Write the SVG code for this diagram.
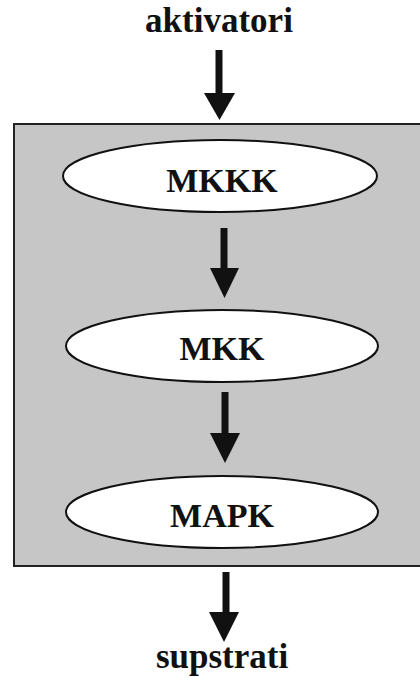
<svg xmlns="http://www.w3.org/2000/svg" width="420" height="678" viewBox="0 0 420 678">
<style>
.lbl{font-family:"Liberation Serif","Times New Roman",serif;font-weight:bold;fill:#111;text-anchor:middle}
.node ellipse{fill:#fff;stroke:#111;stroke-width:2}
.shaft{stroke:#111;stroke-width:7;fill:none}
.head{fill:#111}
</style>
<rect width="420" height="678" fill="#fff"/>
<g id="box"><rect x="14" y="124" width="410" height="442" fill="#c6c6c6" stroke="#222" stroke-width="2"/></g>
<g id="aktivatori"><text class="lbl" x="219" y="32" font-size="35">aktivatori</text></g>
<g id="supstrati"><text class="lbl" x="222" y="668" font-size="35">supstrati</text></g>
<g id="MKKK" class="node"><ellipse cx="220" cy="176" rx="157" ry="36"/><text class="lbl" x="222" y="192" font-size="34">MKKK</text></g>
<g id="MKK" class="node"><ellipse cx="222" cy="346" rx="156" ry="36"/><text class="lbl" x="222" y="360" font-size="34">MKK</text></g>
<g id="MAPK" class="node"><ellipse cx="222" cy="512" rx="156" ry="36"/><text class="lbl" x="222" y="527" font-size="34">MAPK</text></g>
<g id="connectors">
<line class="shaft" x1="219" y1="50" x2="219" y2="96"/><polygon class="head" points="204,93 235,93 219.5,120"/>
<line class="shaft" x1="224" y1="228" x2="224" y2="270"/><polygon class="head" points="210,268 239,268 224.5,298"/>
<line class="shaft" x1="225" y1="392" x2="225" y2="435"/><polygon class="head" points="210,433 240,433 225,463"/>
<line class="shaft" x1="226" y1="572" x2="226" y2="614"/><polygon class="head" points="209,612 239,612 224,642"/>
</g>
</svg>
